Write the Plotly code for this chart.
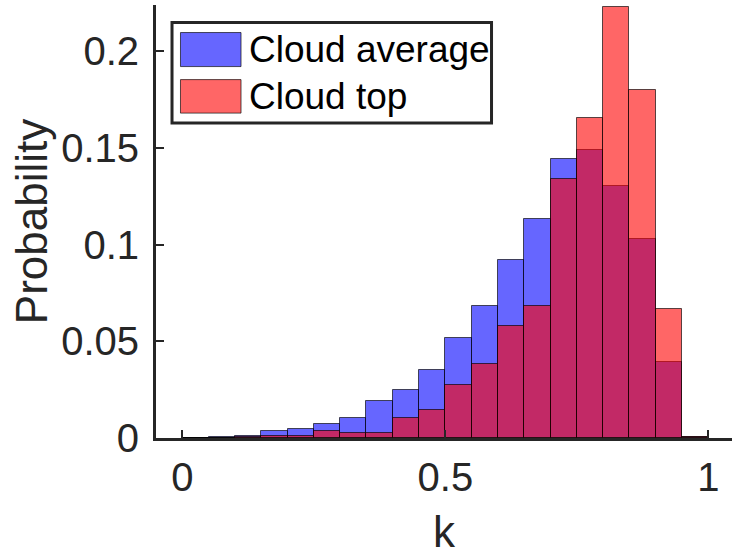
import plotly.graph_objects as go

# Bin edges of the histogram (width 0.05)
bin_left = [round(0.05 * i, 2) for i in range(20)]
bin_width = 0.05
bin_centers = [round(b + bin_width / 2, 3) for b in bin_left]

series_names = ["Cloud average", "Cloud top"]
cloud_average = [0.0, 0.0006, 0.0008, 0.0034, 0.0044, 0.0070, 0.0105, 0.0194, 0.0246, 0.0353,
                 0.0519, 0.0681, 0.0923, 0.1134, 0.1443, 0.1490, 0.1305, 0.1030, 0.0393, 0.0006]
cloud_top = [0.0, 0.0, 0.0006, 0.0010, 0.0008, 0.0035, 0.0027, 0.0027, 0.0103, 0.0146,
             0.0276, 0.0381, 0.0578, 0.0683, 0.1341, 0.1653, 0.2232, 0.1800, 0.0669, 0.0003]

x_tickvals = [0, 0.5, 1]
x_ticktext = ["0", "0.5", "1"]
y_tickvals = [0, 0.05, 0.1, 0.15, 0.2]
y_ticktext = ["0", "0.05", "0.1", "0.15", "0.2"]

BLUE = "rgba(0,0,255,0.6)"
RED = "rgba(255,0,0,0.6)"
EDGE = "rgba(0,0,0,0.65)"
AXC = "#262626"
FONT = "Liberation Sans, Arial, sans-serif"

fig = go.Figure()
for name, vals, col in [(series_names[0], cloud_average, BLUE), (series_names[1], cloud_top, RED)]:
    fig.add_trace(go.Bar(
        x=bin_centers, y=vals, width=bin_width, name=name,
        marker=dict(color=col, line=dict(color=EDGE, width=1)),
        showlegend=False,
    ))

# Custom legend (large swatches as in the reference)
L = dict(x0=0.0278, x1=0.5825, y0=0.7272, y1=0.9595)
shapes = [
    dict(type="rect", xref="paper", yref="paper", x0=L["x0"], x1=L["x1"], y0=L["y0"], y1=L["y1"],
         line=dict(color=AXC, width=3), fillcolor="white", layer="above"),
    dict(type="rect", xref="paper", yref="paper", x0=0.0425, x1=0.1476, y0=0.8578, y1=0.9364,
         line=dict(color=EDGE, width=1), fillcolor=BLUE, layer="above"),
    dict(type="rect", xref="paper", yref="paper", x0=0.0425, x1=0.1476, y0=0.7503, y1=0.8277,
         line=dict(color=EDGE, width=1), fillcolor=RED, layer="above"),
]
annotations = [
    dict(xref="paper", yref="paper", x=0.158, y=0.897, text=series_names[0], showarrow=False,
         xanchor="left", yanchor="middle", font=dict(family=FONT, size=37, color="black")),
    dict(xref="paper", yref="paper", x=0.158, y=0.789, text=series_names[1], showarrow=False,
         xanchor="left", yanchor="middle", font=dict(family=FONT, size=37, color="black")),
]

fig.update_layout(
    width=732, height=556,
    margin=dict(l=156, r=0, t=5, b=118),
    plot_bgcolor="white", paper_bgcolor="white",
    barmode="overlay", bargap=0,
    font=dict(family=FONT, color=AXC),
    shapes=shapes, annotations=annotations,
    xaxis=dict(range=[-0.05, 1.045], tickvals=x_tickvals, ticktext=x_ticktext,
               ticks="inside", ticklen=8, tickwidth=2, tickcolor=AXC,
               showline=True, linecolor=AXC, linewidth=3, showgrid=False, zeroline=False,
               tickfont=dict(size=40, color=AXC), ticklabelstandoff=2,
               title=dict(text="k", font=dict(size=44, color=AXC), standoff=19)),
    yaxis=dict(range=[0, 0.224], tickvals=y_tickvals, ticktext=y_ticktext,
               ticks="inside", ticklen=8, tickwidth=2, tickcolor=AXC,
               showline=True, linecolor=AXC, linewidth=3, showgrid=False, zeroline=False,
               tickfont=dict(size=40, color=AXC), ticklabelstandoff=6,
               title=dict(text="Probability", font=dict(size=44, color=AXC), standoff=0)),
)

fig.write_html("out.html")
